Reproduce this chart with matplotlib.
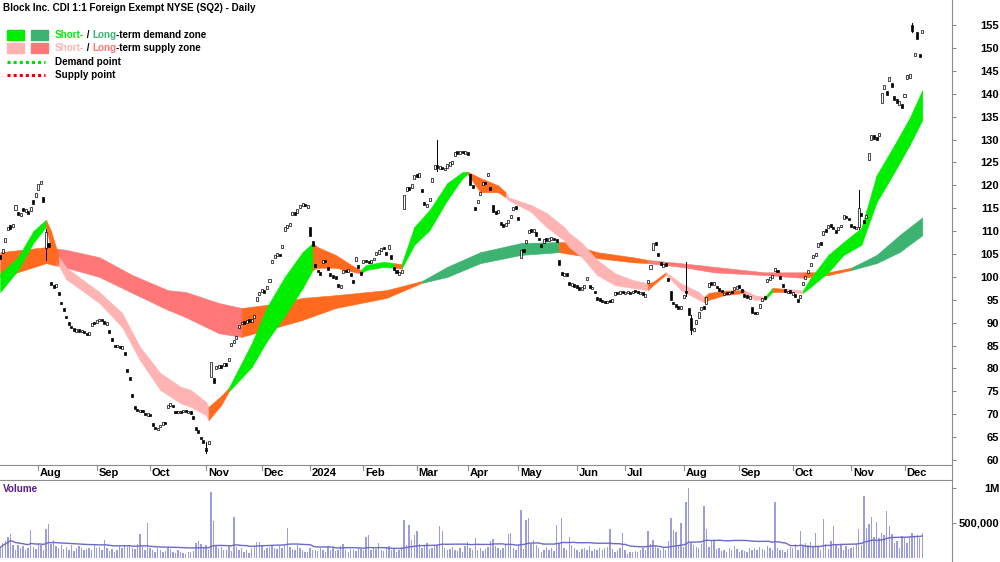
import numpy as np
import pandas as pd
import matplotlib
matplotlib.use("Agg")
import matplotlib.pyplot as plt

plt.rcParams["font.family"] = ["Liberation Sans", "DejaVu Sans"]

# ASX trading days (CDI listed in Sydney)
ASX_HOLIDAYS = ["2023-12-25", "2023-12-26", "2024-01-01", "2024-01-26",
                "2024-03-29", "2024-04-01", "2024-04-25", "2024-06-10"]
START = "2023-07-11"

# daily closes
close = [
    104.0, 106.0, 108.5, 111.0, 110.5, 111.5, 115.7, 113.5, 114.0, 114.4,
    114.8, 113.8, 115.2, 116.0, 118.3, 120.2, 121.0, 116.3, 109.8, 106.5,
    98.2, 97.6, 98.4, 96.0, 94.0, 92.5, 91.0, 89.5, 88.8, 88.2,
    88.6, 88.0, 88.4, 87.7, 87.2, 88.0, 90.0, 89.6, 90.6, 90.9,
    90.4, 89.8, 90.1, 87.7, 86.0, 84.7, 85.2, 84.4, 84.9, 83.0,
    79.2, 77.5, 73.8, 71.2, 70.6, 71.0, 70.4, 69.8, 70.2, 69.5,
    67.5, 66.8, 67.0, 67.6, 68.2, 67.9, 72.0, 72.4, 71.5, 70.2,
    70.8, 70.3, 70.9, 70.4, 70.8, 70.1, 69.0, 66.6, 66.0, 64.5,
    63.8, 62.0, 64.2, 81.4, 76.8, 80.5, 80.8, 80.2, 81.2, 80.6,
    82.3, 85.5, 86.2, 87.0, 89.5, 90.2, 89.8, 90.6, 90.1, 90.9,
    91.7, 95.5, 96.8, 97.4, 96.5, 98.0, 99.5, 103.8, 104.8, 105.2,
    104.5, 107.0, 110.8, 111.3, 111.8, 114.2, 113.6, 114.8, 115.7, 116.2,
    115.4, 115.8, 109.0, 106.7, 102.2, 101.0, 100.4, 103.7, 103.2, 101.5,
    100.2, 99.8, 99.5, 97.8, 98.2, 101.5, 101.0, 101.8, 100.2, 98.6,
    104.3, 102.0, 100.4, 103.7, 103.2, 103.0, 103.7, 104.2, 105.4, 105.8,
    106.3, 106.0, 104.8, 107.0, 104.0, 101.5, 100.8, 101.0, 101.5, 118.0,
    119.6, 119.0, 120.2, 122.2, 121.8, 122.6, 118.5, 115.7, 116.0, 117.2,
    121.6, 124.4, 123.8, 124.2, 123.5, 123.9, 124.6, 125.0, 125.4, 127.3,
    126.8, 127.6, 127.0, 127.5, 126.6, 120.0, 119.5, 114.6, 116.8, 118.5,
    120.7, 120.2, 122.7, 119.0, 114.2, 113.8, 114.6, 111.3, 111.0, 111.8,
    112.5, 113.5, 115.3, 114.8, 112.4, 105.9, 105.4, 108.0, 110.2, 109.8,
    110.5, 109.0, 108.0, 106.5, 108.2, 107.8, 108.4, 108.7, 108.0, 107.6,
    102.6, 100.4, 100.8, 100.2, 98.2, 98.6, 97.9, 97.6, 97.2, 97.8,
    98.2, 100.0, 97.6, 97.9, 96.4, 95.0, 94.8, 94.5, 94.2, 94.8,
    94.5, 95.2, 96.7, 96.2, 96.9, 96.5, 96.7, 96.9, 96.3, 97.0,
    96.7, 96.4, 96.8, 96.0, 96.2, 99.3, 102.6, 107.4, 107.0, 104.5,
    102.6, 102.8, 102.4, 99.0, 95.0, 94.0, 93.4, 93.0, 93.6, 96.0,
    96.5, 91.7, 88.4, 88.8, 90.5, 92.3, 93.4, 93.0, 95.6, 98.6,
    98.2, 98.8, 97.5, 96.9, 96.6, 96.5, 96.2, 96.8, 96.5, 97.8,
    98.0, 97.6, 96.8, 95.6, 95.4, 95.8, 92.1, 91.8, 92.4, 94.0,
    95.4, 95.2, 99.5, 100.0, 100.5, 102.0, 101.0, 99.5, 97.8, 96.7,
    97.0, 96.5, 96.7, 95.5, 94.5, 96.0, 98.9, 100.2, 101.5, 103.0,
    104.8, 105.2, 107.4, 107.0, 110.0, 109.8, 111.3, 111.0, 110.4, 109.6,
    111.0, 111.4, 113.5, 112.8, 112.4, 110.9, 110.6, 111.0, 115.0, 113.2,
    111.8, 113.5, 127.0, 131.0, 130.2, 129.9, 131.5, 140.1, 141.9, 139.7,
    143.6, 141.5, 138.6, 138.0, 138.4, 136.9, 140.0, 144.1, 144.4, 153.8,
    149.0, 152.0, 148.0, 154.0,
]
# daily opens (estimated from body size / colour)
open_ = [
    104.8, 105.2, 107.6, 110.2, 111.3, 110.8, 114.6, 114.2, 113.3, 115.0,
    114.2, 114.5, 114.4, 116.8, 117.5, 118.9, 120.2, 117.5, 106.3, 107.3,
    98.8, 98.3, 97.8, 96.7, 94.6, 93.1, 91.5, 90.2, 89.3, 88.9,
    88.0, 88.6, 87.9, 88.2, 87.8, 87.4, 89.2, 90.1, 89.9, 90.3,
    90.9, 90.3, 89.5, 88.4, 86.7, 85.2, 84.6, 85.0, 84.3, 83.6,
    79.8, 78.1, 74.5, 71.8, 71.1, 70.5, 70.9, 70.3, 69.7, 70.0,
    68.0, 67.3, 66.5, 67.1, 67.7, 68.4, 71.3, 71.9, 72.0, 70.8,
    70.3, 70.8, 70.4, 70.9, 70.2, 70.6, 69.6, 67.2, 66.6, 65.1,
    64.4, 62.7, 63.5, 78.1, 78.0, 79.8, 80.2, 80.8, 80.5, 81.2,
    81.6, 84.8, 85.5, 86.4, 88.8, 89.6, 90.4, 90.0, 90.7, 90.2,
    91.0, 94.8, 96.1, 96.7, 97.1, 97.3, 98.8, 103.0, 104.1, 104.5,
    105.1, 106.3, 110.0, 110.6, 111.1, 113.5, 114.2, 114.0, 115.0, 115.5,
    116.0, 115.1, 111.0, 107.9, 102.9, 101.6, 101.0, 103.0, 103.8, 102.2,
    100.9, 100.4, 100.1, 98.5, 97.6, 100.8, 101.6, 101.1, 100.9, 99.3,
    103.5, 102.7, 101.0, 103.0, 103.8, 103.5, 103.1, 103.6, 104.7, 105.1,
    105.6, 106.6, 105.4, 106.2, 104.7, 102.2, 101.4, 100.4, 100.8, 114.8,
    118.8, 119.7, 119.4, 121.4, 122.4, 121.9, 119.2, 116.4, 115.3, 116.5,
    120.8, 123.6, 124.4, 123.6, 124.1, 123.3, 123.9, 124.3, 124.7, 126.5,
    127.4, 126.9, 127.6, 126.8, 127.2, 122.5, 120.1, 115.3, 116.1, 117.8,
    120.0, 120.8, 122.0, 119.7, 115.6, 114.4, 113.9, 112.0, 111.6, 111.1,
    111.8, 112.8, 114.6, 115.4, 113.0, 104.2, 106.0, 107.3, 109.5, 110.4,
    109.8, 109.7, 108.6, 107.2, 107.5, 108.4, 107.8, 108.1, 108.6, 108.2,
    103.8, 101.1, 100.2, 100.8, 98.9, 98.0, 98.5, 98.2, 97.8, 97.2,
    97.6, 99.3, 98.2, 97.3, 97.0, 95.6, 95.3, 95.0, 94.7, 94.2,
    95.0, 94.6, 96.0, 96.8, 96.3, 97.0, 96.2, 96.4, 96.8, 96.4,
    97.2, 96.9, 96.2, 96.6, 95.7, 98.6, 101.8, 105.8, 107.6, 105.2,
    103.2, 102.2, 103.0, 99.7, 97.0, 94.6, 94.0, 93.6, 93.0, 95.3,
    97.0, 93.2, 91.0, 88.2, 89.8, 91.0, 92.7, 93.6, 94.0, 97.8,
    98.8, 98.2, 98.1, 97.5, 97.2, 96.0, 96.8, 96.2, 97.0, 97.1,
    97.4, 98.2, 97.4, 96.2, 96.0, 95.2, 93.4, 92.4, 91.8, 93.3,
    94.7, 95.8, 98.8, 99.4, 99.8, 101.3, 101.6, 100.2, 98.4, 97.3,
    96.4, 97.1, 96.1, 96.2, 95.2, 95.3, 98.2, 99.5, 100.8, 102.3,
    104.1, 104.6, 106.6, 107.6, 109.2, 110.4, 110.6, 111.6, 111.0, 110.2,
    110.3, 110.8, 112.7, 113.4, 112.9, 111.6, 111.2, 110.4, 110.8, 113.9,
    112.5, 112.8, 125.5, 130.0, 131.0, 130.6, 130.8, 138.0, 141.0, 140.6,
    142.8, 142.4, 139.5, 138.8, 137.6, 137.7, 139.2, 143.2, 143.5, 155.0,
    148.3, 153.5, 148.6, 153.3,
]
# visible wicks (high, low)
wicks = {18: (110.5, 103.7), 81: (64.0, 61.5), 172: (130.0, 123.2),
         270: (103.3, 95.8), 272: (91.7, 87.5), 338: (119.0, 110.4),
         359: (155.4, 153.5)}

# volume in thousands of shares
volume_k = [
    150, 210, 240, 300, 340, 180, 120, 190, 140, 170,
    110, 150, 400, 160, 130, 210, 180, 120, 420, 490,
    200, 260, 170, 150, 180, 130, 160, 120, 190, 100,
    140, 170, 150, 110, 130, 150, 120, 180, 140, 160,
    120, 260, 150, 100, 130, 90, 120, 170, 140, 180,
    160, 190, 150, 130, 200, 340, 170, 110, 500, 150,
    110, 90, 140, 120, 80, 100, 150, 130, 90, 70,
    110, 80, 70, 60, 90, 80, 100, 210, 250, 200,
    150, 180, 120, 940, 530, 190, 150, 160, 110, 120,
    170, 100, 580, 160, 120, 140, 90, 110, 70, 150,
    160, 230, 230, 170, 120, 140, 160, 180, 150, 130,
    170, 140, 190, 425, 160, 130, 120, 180, 150, 110,
    90, 80, 140, 120, 110, 100, 150, 120, 90, 170,
    110, 140, 100, 120, 170, 200, 110, 90, 130, 120,
    100, 150, 130, 120, 300, 330, 110, 150, 130, 210,
    120, 100, 140, 170, 110, 130, 90, 120, 160, 545,
    180, 470, 260, 330, 380, 200, 150, 170, 210, 130,
    140, 190, 180, 450, 390, 150, 110, 130, 160, 120,
    100, 140, 90, 170, 230, 150, 120, 280, 110, 140,
    100, 130, 160, 250, 270, 170, 150, 120, 140, 180,
    345, 360, 150, 110, 200, 690, 130, 540, 570, 200,
    260, 180, 140, 90, 120, 160, 110, 140, 100, 470,
    200, 570, 150, 120, 300, 180, 140, 110, 90, 130,
    150, 120, 170, 100, 130, 110, 150, 120, 140, 160,
    410, 130, 90, 110, 140, 360, 120, 60, 80, 90,
    100, 80, 120, 140, 110, 385, 200, 260, 170, 150,
    120, 140, 110, 250, 570, 400, 375, 180, 500, 160,
    800, 1000, 215, 180, 160, 140, 200, 740, 410, 160,
    240, 240, 130, 150, 100, 120, 90, 140, 110, 170,
    130, 80, 120, 100, 90, 140, 110, 150, 120, 160,
    130, 110, 170, 140, 120, 800, 150, 120, 110, 90,
    130, 160, 140, 200, 110, 385, 170, 220, 190, 230,
    160, 350, 170, 120, 555, 200, 130, 240, 460, 180,
    150, 200, 110, 170, 130, 140, 160, 200, 410, 180,
    890, 430, 480, 590, 300, 520, 280, 350, 330, 670,
    450, 345, 210, 240, 150, 320, 280, 220, 300, 360,
    310, 330, 280, 360,
]

# short-term zone: knots (trading-day index), lower/upper edge, state per segment
short_x = [0, 7, 13, 18, 20, 23, 26, 39, 48, 55, 63, 71, 75, 81, 82, 87, 90, 99,
           105, 112, 119, 123, 125, 132, 140, 142, 144, 151, 155, 158, 163, 169,
           176, 182, 184, 189, 196, 199, 200, 209, 215, 222, 224, 229, 235, 242,
           249, 255, 257, 262, 268, 275, 277, 279, 285, 293, 297, 301, 304, 309,
           316, 319, 326, 332, 339, 345, 352, 358, 363]
short_lo = [96.7, 101.5, 107.4, 111.0, 106.0, 102.5, 99.5, 94.3, 89.0, 81.8, 75.3,
            72.4, 71.6, 69.8, 68.7, 72.0, 75.0, 80.3, 86.0, 91.5, 97.5, 101.5, 102.0,
            102.0, 101.0, 100.8, 101.5, 102.2, 102.0, 101.8, 107.0, 110.2, 116.8,
            121.6, 122.5, 118.5, 118.5, 117.4, 116.8, 114.2, 110.9, 108.0, 106.5,
            104.3, 100.4, 98.2, 97.6, 97.1, 98.2, 100.5, 97.1, 95.0, 94.5, 95.0,
            96.0, 96.5, 95.0, 95.0, 96.7, 96.7, 96.5, 97.8, 101.0, 104.8, 107.0,
            116.3, 122.9, 128.8, 134.3]
short_hi = [100.8, 104.3, 110.0, 112.5, 110.0, 104.5, 102.0, 96.7, 92.1, 84.7, 79.0,
            76.0, 75.3, 72.7, 71.6, 74.0, 75.8, 85.5, 93.4, 100.0, 105.4, 107.4,
            106.5, 104.8, 102.0, 101.5, 102.6, 103.3, 103.0, 102.8, 110.9, 114.6,
            120.5, 122.9, 123.0, 121.6, 120.0, 118.5, 117.4, 115.7, 114.0, 110.9,
            109.6, 107.4, 103.7, 100.8, 99.3, 98.6, 98.9, 101.0, 98.6, 96.7, 95.6,
            96.5, 97.0, 97.1, 96.0, 95.6, 97.6, 97.4, 97.0, 99.7, 104.8, 107.6,
            110.7, 122.2, 128.8, 134.7, 140.8]
short_state = ("GGG" "OO" "PPPPPPPPP" "OO" "GGGGG" "OOOO" "GGG" "O" "GGGGG" "OOO"
               "PPPPPPPPPP" "OO" "PPP" "OOO" "PP" "G" "O" "P" "GGGGGGGG")

# long-term zone
long_x = [0, 18, 22, 26, 39, 52, 66, 73, 86, 95, 105, 119, 132, 152, 166, 176, 189,
          205, 220, 222, 235, 249, 255, 268, 281, 301, 316, 326, 335, 345, 354, 363]
long_lo = [99.8, 103.0, 102.5, 102.0, 100.0, 96.5, 92.8, 91.2, 87.7, 86.9, 88.4, 90.6,
           93.2, 95.4, 98.7, 100.0, 103.0, 104.8, 105.4, 105.2, 104.1, 103.2, 103.0,
           102.2, 101.0, 100.4, 99.8, 100.4, 101.5, 103.0, 105.4, 109.1]
long_hi = [105.4, 106.5, 106.2, 105.9, 104.3, 100.4, 97.1, 96.7, 94.3, 93.2, 93.9, 95.4,
           96.0, 97.1, 99.1, 102.2, 105.4, 107.4, 107.6, 107.6, 105.4, 104.3, 103.7,
           103.0, 102.2, 101.0, 101.0, 101.0, 102.0, 104.8, 109.1, 113.0]
long_state = "OO" "SSSSSSS" "OOOOO" "DDDD" "OOOO" "SSSS" "OO" "DDD"

ZONE_COLORS = {
    "G": "#00ee00",   # short-term demand
    "D": "#3cb371",   # long-term demand
    "P": "#ffb3b3",   # short-term supply
    "S": "#ff7777",   # long-term supply
    "O": "#ff6a1f",   # transition
}
W, H = 1000, 562
GRAY = "#8c8c8c"
AXFONT = dict(fontsize=8, fontweight="bold")
HEADFONT = dict(fontsize=7.1, fontweight="bold")


def draw_zone(ax, xs, lo, hi, states, z):
    for k, s in enumerate(states):
        c = ZONE_COLORS[s]
        ax.fill_between(xs[k:k + 2], lo[k:k + 2], hi[k:k + 2], color=c,
                        edgecolor=c, linewidth=0.4, zorder=z)


def multicolor(fig, x_px, y_px, parts):
    r = fig.canvas.get_renderer()
    for s, c in parts:
        t = fig.text(x_px / W, 1 - y_px / H, s, color=c, va="center", ha="left", **HEADFONT)
        x_px += t.get_window_extent(r).width


def main():
    n = len(close)
    dates = pd.bdate_range(START, periods=n, freq="C", holidays=ASX_HOLIDAYS)
    x = np.arange(n)
    c = np.array(close)
    o = np.array(open_)

    fig = plt.figure(figsize=(W / 100, H / 100), dpi=100)
    ax = fig.add_axes([0, 1 - 465 / H, 0.952, 465 / H])
    ax_d = fig.add_axes([0, 1 - 480 / H, 0.952, 15 / H])
    ax_v = fig.add_axes([0, 0, 0.952, 82 / H])
    xlim = (-0.1, 374.7)

    # zones
    draw_zone(ax, long_x, long_lo, long_hi, long_state, 1)
    draw_zone(ax, short_x, short_lo, short_hi, short_state, 2)

    # candles
    for i, (hi, lo) in wicks.items():
        ax.plot([i, i], [lo, hi], color="black", lw=0.7, zorder=3)
    up = c >= o
    bottom = np.minimum(o, c)
    height = np.maximum(np.abs(c - o), 0.35)
    ax.bar(x[up], height[up], bottom=bottom[up], width=0.8, color="white",
           edgecolor="black", linewidth=0.5, zorder=4)
    ax.bar(x[~up], height[~up], bottom=bottom[~up], width=0.8, color="black",
           edgecolor="black", linewidth=0.5, zorder=4)

    ax.set_xlim(*xlim)
    ax.set_ylim(58.9, 160.5)
    ax.set_xticks([])
    ax.yaxis.tick_right()
    ax.set_yticks(np.arange(60, 156, 5))
    ax.tick_params(axis="y", direction="out", length=3, color=GRAY, pad=31, labelsize=8)
    for lab in ax.get_yticklabels():
        lab.set_ha("right")
        lab.set_fontweight("bold")
    for s in ("left", "top"):
        ax.spines[s].set_visible(False)
    for s in ("right", "bottom"):
        ax.spines[s].set_color(GRAY)

    # month band
    months = dates.to_period("M")
    starts = [i for i in range(1, n) if months[i] != months[i - 1]]
    ax_d.set_xlim(*xlim)
    ax_d.set_ylim(0, 1)
    ax_d.axis("off")
    for i in starts:
        d = dates[i]
        lab = str(d.year) if d.month == 1 else d.strftime("%b")
        ax_d.plot([i, i], [1, 0.7], color=GRAY, lw=0.8)
        ax_d.text(i + 0.7, 0.45, lab, va="center", ha="left", **AXFONT)
    fig.add_artist(plt.Line2D([0.952, 0.952], [1 - 480 / H, 1 - 465 / H], color=GRAY, lw=0.8))

    # volume
    vol = np.array(volume_k) * 1000.0
    ax_v.bar(x, vol, width=0.55, color="#9c9ce0", zorder=2)
    ma = pd.Series(vol).rolling(40, min_periods=1).mean()
    ax_v.plot(x, ma, color="#6a6ac8", lw=1.0, zorder=3)
    ax_v.set_xlim(*xlim)
    ax_v.set_ylim(-57000, 1114000)
    ax_v.set_xticks([])
    ax_v.yaxis.tick_right()
    ax_v.set_yticks([500000, 1000000])
    ax_v.set_yticklabels(["500,000", "1M"])
    ax_v.tick_params(axis="y", direction="out", length=3, color=GRAY, pad=31, labelsize=8)
    for lab in ax_v.get_yticklabels():
        lab.set_ha("right")
        lab.set_fontweight("bold")
    for s in ("left", "bottom"):
        ax_v.spines[s].set_visible(False)
    for s in ("right", "top"):
        ax_v.spines[s].set_color(GRAY)
    fig.text(3 / W, 1 - 489 / H, "Volume", color="#5a1a8a", va="center", ha="left", **HEADFONT)

    # title and legend
    fig.text(3 / W, 1 - 8 / H, "Block Inc. CDI 1:1 Foreign Exempt NYSE (SQ2) - Daily",
             va="center", ha="left", **HEADFONT)
    for (x0, y0, col) in [(7, 30, "#00ee00"), (31, 30, "#3cb371"),
                          (7, 43, "#ffb3b3"), (31, 43, "#ff7777")]:
        fig.add_artist(plt.Rectangle((x0 / W, 1 - (y0 + 10) / H), 17 / W, 10 / H,
                                     color=col, transform=fig.transFigure))
    multicolor(fig, 55, 35, [("Short-", "#00ee00"), (" / ", "black"),
                             ("Long", "#3cb371"), ("-term demand zone", "black")])
    multicolor(fig, 55, 48, [("Short-", "#ffb3b3"), (" / ", "black"),
                             ("Long", "#ff7777"), ("-term supply zone", "black")])
    for y0, col, lab in [(62, "#00dd00", "Demand point"), (75, "#ee0000", "Supply point")]:
        fig.add_artist(plt.Line2D([7 / W, 45 / W], [1 - y0 / H, 1 - y0 / H], color=col,
                                  lw=2.2, linestyle=(0, (1, 1))))
        fig.text(55 / W, 1 - y0 / H, lab, va="center", ha="left", **HEADFONT)

    fig.savefig("out.png", dpi=100)


if __name__ == "__main__":
    main()
